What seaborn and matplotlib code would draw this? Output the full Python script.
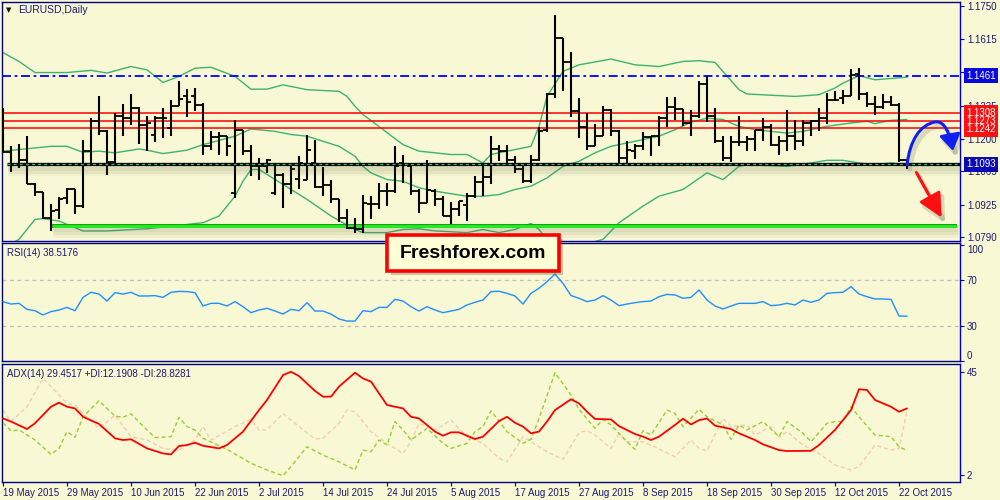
import numpy as np
import pandas as pd
import matplotlib
matplotlib.use('Agg')
import matplotlib.pyplot as plt
import matplotlib.patheffects as pe
import matplotlib.transforms as mtrans
from matplotlib.patches import Rectangle, FancyArrowPatch
from matplotlib.path import Path
import seaborn as sns

# EURUSD daily bars, 19 May - 23 Oct 2015 (business days)
dates = pd.bdate_range('2015-05-19', '2015-10-23')

opens = [1.1317, 1.1146, 1.1095, 1.1113, 1.1010, 1.0978, 1.0872, 1.0902, 1.0955, 1.0989,
         1.0920, 1.1148, 1.1272, 1.1230, 1.1105, 1.1292, 1.1285, 1.1327, 1.1258, 1.1217,
         1.1285, 1.1244, 1.1336, 1.1375, 1.1378, 1.1341, 1.1168, 1.1206, 1.1210, 1.0975,
         1.1237, 1.1148, 1.1085, 1.1085, 1.0975, 1.1050, 1.1010, 1.1033, 1.1030, 1.1099,
         1.0999, 1.1006, 1.0948, 1.0872, 1.0830, 1.0823, 1.0927, 1.0927, 1.0982, 1.0982,
         1.1099, 1.1085, 1.0982, 1.0931, 1.0982, 1.0950, 1.0879, 1.0906, 1.0923, 1.0961,
         1.1019, 1.1041, 1.1157, 1.1148, 1.1113, 1.1074, 1.1024, 1.1113, 1.1237, 1.1385,
         1.1616, 1.1516, 1.1313, 1.1247, 1.1168, 1.1210, 1.1317, 1.1230, 1.1120, 1.1148,
         1.1168, 1.1206, 1.1210, 1.1285, 1.1331, 1.1323, 1.1265, 1.1292, 1.1426, 1.1292,
         1.1189, 1.1120, 1.1185, 1.1185, 1.1199, 1.1237, 1.1247, 1.1175, 1.1192, 1.1212,
         1.1192, 1.1265, 1.1272, 1.1285, 1.1361, 1.1370, 1.1375, 1.1470, 1.1385, 1.1345,
         1.1331, 1.1350, 1.1341, 1.1110]
highs = [1.1327, 1.1168, 1.1179, 1.1210, 1.1015, 1.0980, 1.0927, 1.0959, 1.0996, 1.0992,
         1.1193, 1.1285, 1.1378, 1.1235, 1.1306, 1.1345, 1.1385, 1.1331, 1.1295, 1.1295,
         1.1327, 1.1361, 1.1437, 1.1405, 1.1410, 1.1347, 1.1230, 1.1226, 1.1212, 1.1279,
         1.1237, 1.1175, 1.1120, 1.1116, 1.1092, 1.1058, 1.1092, 1.1127, 1.1217, 1.1196,
         1.1083, 1.1030, 1.0948, 1.0906, 1.0869, 1.0968, 1.0961, 1.1017, 1.1017, 1.1168,
         1.1134, 1.1099, 1.0989, 1.1113, 1.0989, 1.0961, 1.0937, 1.0943, 1.0975, 1.1044,
         1.1099, 1.1212, 1.1175, 1.1175, 1.1127, 1.1092, 1.1134, 1.1247, 1.1389, 1.1713,
         1.1616, 1.1561, 1.1367, 1.1306, 1.1262, 1.1334, 1.1323, 1.1237, 1.1189, 1.1179,
         1.1226, 1.1212, 1.1292, 1.1372, 1.1372, 1.1323, 1.1320, 1.1440, 1.1458, 1.1327,
         1.1210, 1.1210, 1.1295, 1.1212, 1.1237, 1.1285, 1.1262, 1.1210, 1.1320, 1.1279,
         1.1276, 1.1279, 1.1327, 1.1389, 1.1396, 1.1403, 1.1490, 1.1492, 1.1392, 1.1378,
         1.1386, 1.1375, 1.1346, 1.1113]
lows = [1.1139, 1.1060, 1.1079, 1.1012, 1.0961, 1.0865, 1.0817, 1.0865, 1.0927, 1.0886,
        1.0913, 1.1085, 1.1217, 1.1051, 1.1085, 1.1210, 1.1258, 1.1179, 1.1148, 1.1185,
        1.1203, 1.1210, 1.1334, 1.1290, 1.1313, 1.1134, 1.1154, 1.1130, 1.1127, 1.0955,
        1.1134, 1.1044, 1.1030, 1.1058, 1.0968, 1.0913, 1.0971, 1.0989, 1.1030, 1.0996,
        1.0961, 1.0931, 1.0854, 1.0826, 1.0810, 1.0810, 1.0865, 1.0906, 1.0920, 1.0975,
        1.1017, 1.0968, 1.0892, 1.0931, 1.0920, 1.0879, 1.0844, 1.0879, 1.0858, 1.0954,
        1.0961, 1.1010, 1.1108, 1.1085, 1.1058, 1.1017, 1.1017, 1.1106, 1.1226, 1.1370,
        1.1396, 1.1290, 1.1203, 1.1152, 1.1168, 1.1210, 1.1212, 1.1085, 1.1085, 1.1116,
        1.1154, 1.1127, 1.1168, 1.1248, 1.1279, 1.1254, 1.1210, 1.1285, 1.1267, 1.1182,
        1.1106, 1.1102, 1.1168, 1.1148, 1.1148, 1.1189, 1.1168, 1.1134, 1.1148, 1.1154,
        1.1168, 1.1210, 1.1230, 1.1262, 1.1354, 1.1345, 1.1375, 1.1361, 1.1331, 1.1299,
        1.1323, 1.1334, 1.1104, 1.1072]
closes = [1.1146, 1.1095, 1.1113, 1.1012, 1.0978, 1.0872, 1.0899, 1.0950, 1.0989, 1.0920,
          1.1148, 1.1272, 1.1230, 1.1105, 1.1292, 1.1285, 1.1327, 1.1258, 1.1265, 1.1285,
          1.1285, 1.1336, 1.1364, 1.1350, 1.1341, 1.1168, 1.1206, 1.1210, 1.1168, 1.1237,
          1.1148, 1.1085, 1.1085, 1.1113, 1.1050, 1.1010, 1.1074, 1.1099, 1.1154, 1.0999,
          1.1006, 1.0948, 1.0872, 1.0830, 1.0823, 1.0934, 1.0927, 1.0982, 1.0982, 1.1085,
          1.1092, 1.0982, 1.0931, 1.0986, 1.0950, 1.0879, 1.0906, 1.0941, 1.0961, 1.1019,
          1.1041, 1.1157, 1.1148, 1.1113, 1.1074, 1.1024, 1.1113, 1.1230, 1.1385, 1.1616,
          1.1516, 1.1313, 1.1247, 1.1168, 1.1210, 1.1317, 1.1230, 1.1120, 1.1154, 1.1168,
          1.1206, 1.1210, 1.1285, 1.1331, 1.1323, 1.1265, 1.1292, 1.1426, 1.1292, 1.1189,
          1.1120, 1.1185, 1.1185, 1.1199, 1.1237, 1.1247, 1.1175, 1.1192, 1.1212, 1.1192,
          1.1265, 1.1272, 1.1285, 1.1361, 1.1361, 1.1375, 1.1465, 1.1385, 1.1345, 1.1331,
          1.1350, 1.1341, 1.1110, 1.1092]

# Bollinger bands (vertices, bar index -> price)
bb_upper_x = [0, 2, 4, 8, 11, 13, 16, 18, 20, 22, 24, 26, 29, 31, 33, 35, 38, 42, 43, 44,
              45, 47, 50, 52, 56, 58, 60, 61, 62, 66, 67, 68, 70, 72, 76, 79, 82, 85, 87, 89,
              92, 93, 99, 102, 104, 105, 107, 109, 113]
bb_upper = [1.1557, 1.1520, 1.1474, 1.1474, 1.1483, 1.1472, 1.1499, 1.1485, 1.1433, 1.1458,
            1.1492, 1.1496, 1.1458, 1.1405, 1.1405, 1.1423, 1.1403, 1.1396, 1.1375, 1.1334,
            1.1300, 1.1250, 1.1175, 1.1148, 1.1134, 1.1134, 1.1099, 1.1134, 1.1141, 1.1168,
            1.1251, 1.1375, 1.1479, 1.1506, 1.1530, 1.1506, 1.1499, 1.1520, 1.1523, 1.1516,
            1.1403, 1.1385, 1.1375, 1.1382, 1.1410, 1.1430, 1.1461, 1.1444, 1.1455]
bb_mid_x = [0, 6, 8, 10, 12, 14, 17, 18, 20, 23, 25, 29, 31, 34, 36, 38, 42, 44, 45, 46,
            48, 50, 52, 54, 58, 60, 62, 64, 66, 68, 70, 72, 74, 76, 79, 82, 84, 86, 88, 90,
            92, 94, 98, 100, 103, 106, 108, 109, 111, 113]
bb_mid = [1.1148, 1.1168, 1.1168, 1.1143, 1.1148, 1.1141, 1.1157, 1.1152, 1.1138, 1.1152,
          1.1175, 1.1210, 1.1240, 1.1230, 1.1217, 1.1210, 1.1168, 1.1127, 1.1085, 1.1058,
          1.1030, 1.1023, 1.0996, 1.0982, 1.0961, 1.0961, 1.0968, 1.0989, 1.1003, 1.1037,
          1.1085, 1.1106, 1.1141, 1.1168, 1.1189, 1.1210, 1.1237, 1.1268, 1.1285, 1.1279,
          1.1251, 1.1237, 1.1223, 1.1230, 1.1251, 1.1265, 1.1272, 1.1262, 1.1276, 1.1279]
bb_low_x = [0, 2, 4, 5, 7, 10, 13, 18, 21, 25, 27, 29, 30, 31, 32, 35, 38, 41, 44, 45,
            48, 50, 52, 54, 58, 60, 62, 64, 66, 67, 68, 70, 72, 75, 77, 80, 82, 85, 88, 90,
            92, 93, 98, 101, 103, 105, 107, 109, 111, 113]
bb_low = [1.0745, 1.0782, 1.0865, 1.0868, 1.0858, 1.0817, 1.0817, 1.0826, 1.0837, 1.0851,
          1.0879, 1.0961, 1.1023, 1.1072, 1.1072, 1.1010, 1.0948, 1.0879, 1.0823, 1.0810,
          1.0810, 1.0823, 1.0826, 1.0817, 1.0810, 1.0823, 1.0810, 1.0823, 1.0848, 1.0823,
          1.0782, 1.0760, 1.0755, 1.0782, 1.0851, 1.0920, 1.0961, 1.0989, 1.1058, 1.1030,
          1.1085, 1.1092, 1.1085, 1.1099, 1.1110, 1.1110, 1.1099, 1.1092, 1.1099, 1.1092]

# RSI(14), one value per bar
rsi = [51.2, 49.1, 49.7, 44.5, 43.3, 39.6, 42.5, 43.9, 46.2, 43.3,
       54.9, 59.3, 57.8, 51.7, 59.0, 57.8, 59.3, 56.1, 56.1, 56.4,
       54.9, 59.3, 60.1, 59.9, 59.0, 47.4, 49.7, 49.7, 47.4, 51.2,
       46.8, 41.6, 43.9, 45.4, 43.0, 40.4, 44.5, 43.3, 50.3, 43.0,
       43.0, 40.4, 36.1, 34.3, 34.3, 43.3, 42.5, 46.2, 46.2, 53.2,
       51.7, 46.8, 43.0, 46.8, 43.9, 41.6, 43.0, 44.5, 48.3, 50.6,
       52.6, 59.9, 60.2, 58.4, 56.1, 49.1, 58.4, 62.8, 68.5, 75.2,
       67.0, 56.5, 54.1, 51.2, 52.6, 56.4, 52.6, 47.7, 49.1, 50.3,
       51.2, 51.7, 55.5, 57.5, 57.0, 54.1, 54.9, 61.3, 52.6, 47.4,
       44.8, 47.4, 49.7, 49.7, 49.7, 51.2, 47.7, 48.3, 49.7, 48.3,
       52.6, 50.6, 52.6, 58.4, 59.0, 59.3, 64.2, 57.8, 55.5, 53.5,
       53.5, 53.2, 38.7, 38.5]

# ADX(14) with +DI / -DI (vertices)
adx_x = [0, 1, 3, 4, 6, 7, 8, 9, 10, 12, 14, 15, 16, 18, 20, 21, 22, 23, 24, 25,
         27, 28, 30, 32, 33, 35, 36, 37, 39, 40, 41, 42, 44, 45, 46, 48, 49, 50, 51, 52,
         54, 55, 56, 57, 59, 60, 62, 63, 64, 65, 66, 67, 68, 69, 71, 72, 73, 74, 76, 77,
         79, 80, 81, 82, 84, 85, 86, 87, 88, 89, 91, 92, 94, 95, 97, 98, 101, 102, 104, 106,
         107, 108, 109, 111, 112, 113]
adx = [25.6, 24.3, 21.2, 23.6, 30.5, 32.2, 30.5, 29.8, 26.3, 23.3, 17.3, 16.6, 16.9, 13.1, 11.0,
       10.6, 14.1, 14.5, 15.5, 14.2, 13.1, 14.5, 20.1, 29.1, 33.3, 43.7, 45.1, 43.3, 37.1, 34.7,
       34.7, 38.9, 44.7, 42.3, 41.0, 31.2, 30.5, 29.8, 26.3, 25.6, 20.1, 18.4, 19.8, 19.8, 17.0,
       18.0, 24.5, 26.3, 23.8, 22.2, 19.4, 20.1, 24.3, 29.1, 33.6, 31.9, 28.4, 25.4, 25.2, 22.4,
       19.1, 18.0, 16.6, 18.0, 22.9, 25.5, 23.1, 24.9, 25.6, 22.6, 21.2, 19.4, 16.6, 14.8, 12.4,
       12.0, 12.1, 14.5, 20.8, 29.1, 37.8, 37.5, 33.3, 30.5, 28.4, 29.8]
pdi_x = [0, 1, 2, 4, 6, 7, 8, 9, 10, 12, 14, 15, 16, 18, 19, 21, 22, 23, 24, 25,
         28, 31, 33, 35, 36, 38, 40, 42, 44, 45, 46, 47, 48, 49, 50, 51, 53, 55, 56, 58,
         59, 60, 61, 62, 63, 65, 66, 67, 69, 71, 72, 74, 75, 76, 78, 79, 80, 81, 83, 84,
         85, 87, 88, 90, 91, 92, 93, 95, 97, 98, 100, 101, 103, 104, 105, 106, 107, 109, 111, 112,
         113]
pdi = [23.8, 20.4, 20.8, 16.6, 10.6, 13.1, 20.1, 17.7, 26.3, 33.0, 26.6, 26.1, 27.5, 20.8, 17.6,
       18.0, 26.1, 22.2, 20.8, 17.3, 12.7, 6.9, 4.1, 1.7, 5.5, 13.8, 10.3, 7.5, 4.1, 12.4,
       11.7, 16.6, 14.5, 24.3, 20.8, 16.6, 21.5, 15.2, 13.1, 15.2, 20.1, 22.2, 28.8, 24.5, 20.1,
       15.2, 16.9, 25.6, 44.7, 35.4, 29.4, 21.5, 25.2, 22.9, 15.9, 12.7, 20.5, 18.7, 29.1, 27.7,
       22.2, 29.4, 26.3, 22.9, 16.9, 22.9, 20.8, 24.3, 18.0, 24.3, 19.4, 15.9, 23.6, 24.3, 24.3,
       30.5, 26.3, 18.7, 18.0, 13.8, 12.2]
mdi_x = [0, 1, 3, 5, 6, 8, 9, 10, 12, 14, 16, 18, 20, 22, 24, 25, 26, 29, 31, 32,
         33, 35, 36, 39, 40, 42, 43, 44, 46, 48, 50, 51, 52, 54, 56, 58, 60, 62, 63, 65,
         67, 68, 70, 72, 73, 74, 76, 77, 78, 80, 81, 84, 86, 87, 88, 90, 91, 93, 94, 96,
         97, 98, 100, 102, 104, 106, 107, 109, 111, 112, 113]
mdi = [29.1, 24.3, 30.5, 42.3, 38.9, 31.9, 31.2, 27.7, 21.5, 27.0, 18.0, 16.6, 13.1, 12.4, 16.6,
       22.2, 16.6, 22.2, 25.2, 20.8, 20.8, 27.7, 24.9, 17.0, 17.3, 23.6, 29.1, 28.4, 20.1, 15.2,
       11.0, 15.9, 23.6, 20.8, 24.9, 18.0, 15.2, 9.0, 7.5, 18.0, 13.8, 11.7, 8.5, 19.7, 20.5,
       18.7, 13.1, 19.1, 15.9, 15.9, 14.5, 9.6, 16.6, 13.1, 12.1, 25.6, 22.2, 22.9, 18.7, 22.2,
       17.7, 20.1, 14.5, 11.0, 6.2, 4.1, 5.5, 14.5, 12.4, 13.0, 28.8]

# drawn levels and axis labels
level_dashdot = 1.1461
levels_red = [1.1308, 1.1273, 1.1242]
level_black = 1.1093
level_green = 1.0839
price_ticks = [1.1750, 1.1615, 1.1475, 1.1335, 1.1200, 1.1065, 1.0925, 1.0790]
date_tick_pos = list(range(0, 114, 8))
date_labels = ['19 May 2015', '29 May 2015', '10 Jun 2015', '22 Jun 2015', '2 Jul 2015',
               '14 Jul 2015', '24 Jul 2015', '5 Aug 2015', '17 Aug 2015', '27 Aug 2015',
               '8 Sep 2015', '18 Sep 2015', '30 Sep 2015', '12 Oct 2015', '22 Oct 2015']

# ---- style
sns.set_style('white')
plt.rcParams['font.family'] = ['Liberation Sans', 'DejaVu Sans']
BG = '#F8F8D4'
NAVY = '#000080'
TXT = '#1a1a70'
FS = 7

fig = plt.figure(figsize=(10, 5), dpi=100, facecolor=BG)
W, H = 1000.0, 500.0


def panel(top, bottom):
    return fig.add_axes([2 / W, 1 - bottom / H, 958 / W, (bottom - top) / H], facecolor=BG)


ax_p = panel(2, 241)
ax_r = panel(243, 361)
ax_a = panel(364, 482)

xlim = (-0.125, 119.625)
for ax in (ax_p, ax_r, ax_a):
    ax.set_xlim(*xlim)
    for s in ax.spines.values():
        s.set_color(NAVY)
        s.set_linewidth(1)
        s.set_visible(True)
    ax.spines['right'].set_color('#0000C0')
    ax.yaxis.tick_right()
    ax.tick_params(axis='y', direction='out', length=3, width=0.8, color='#0000C0',
                   labelsize=FS, labelcolor=TXT, pad=2, right=True, left=False)
    ax.tick_params(axis='x', bottom=False, labelbottom=False)
    ax.grid(False)
    ax.set_xlabel('')
    ax.set_ylabel('')

# ---- price panel
idx = np.arange(len(opens))


def soft_shadow(width):
    # a few stacked translucent strokes give a blurred drop shadow
    fx = []
    for k, a in ((0, 0.07), (1, 0.07), (2, 0.06)):
        fx.append(pe.SimpleLineShadow(offset=(1, -3 - k), shadow_color='#606040',
                                      alpha=a, linewidth=width + 2 * k))
    return fx


for bx, by in ((bb_upper_x, bb_upper), (bb_mid_x, bb_mid), (bb_low_x, bb_low)):
    sns.lineplot(x=bx, y=by, ax=ax_p, color='#3CB371', lw=1, zorder=2)

ax_p.axhline(level_dashdot, color='#0000FF', lw=1.3, ls=(0, (5, 2, 1.5, 2)), zorder=3)
for lv in levels_red:
    ax_p.axhline(lv, color='#FF0000', lw=1.1, zorder=3)
ax_p.hlines(level_green, 6.1, 119.25, color='#22F022', lw=2.0, zorder=3,
            path_effects=soft_shadow(3) + [pe.Stroke(linewidth=2.8, foreground='#119911'),
                                           pe.Normal()])

ax_p.vlines(idx, lows, highs, color='black', lw=1.5, zorder=4)
ax_p.hlines(opens, idx - 0.45, idx, color='black', lw=1.3, zorder=4)
ax_p.hlines(closes, idx, idx + 0.45, color='black', lw=1.3, zorder=4)

ax_p.hlines(level_black, 0.5, xlim[1], color='black', lw=2.4, zorder=5,
            path_effects=soft_shadow(3) + [pe.Normal()])
ax_p.hlines(level_black, 0.5, xlim[1], color='#3CB371', lw=1, zorder=6,
            linestyles=[(0, (2.2, 2.2))])

ax_p.set_ylim(1.07753, 1.17666)
ax_p.set_yticks(price_ticks)
ax_p.set_yticklabels(['%.4f' % t for t in price_ticks])

# price boxes on the right scale
tr = mtrans.blended_transform_factory(ax_p.transAxes, ax_p.transData)
bx0 = (966 - 2) / 958.0
for lv, fc in ((level_dashdot, '#0A0AE0'), (level_black, '#0A0AB4')):
    ax_p.text(bx0, lv, '%.4f' % lv, transform=tr, color='white', fontsize=FS,
              ha='left', va='center', clip_on=False, zorder=20,
              bbox=dict(boxstyle='square,pad=0.25', fc=fc, ec='none'))
# the three red levels sit in one stacked red label block
ax_p.text(bx0, levels_red[1], '\n'.join('%.4f' % lv for lv in levels_red), transform=tr,
          color='white', fontsize=FS, ha='left', va='center', linespacing=0.78,
          clip_on=False, zorder=20,
          bbox=dict(boxstyle='square,pad=0.25', fc='#FF1010', ec='none'))


# hand-drawn arrows
def to_data(px, py):
    return ((px - 3) / 8.0, 1.1750 - (py - 6) / 2411.0)


arr_fx = [pe.SimpleLineShadow(offset=(2, -3), shadow_color='#606040', alpha=0.2,
                              linewidth=3.5), pe.Normal()]
blue_pts = [to_data(*p) for p in [(907, 165), (910, 140), (920, 125), (935, 122),
                                  (945, 120), (950, 135), (953, 151)]]
blue_path = Path(blue_pts, [Path.MOVETO] + [Path.CURVE4] * 6)
blue_arrow = FancyArrowPatch(path=blue_path, arrowstyle='-|>,head_length=0.7,head_width=0.45',
                             mutation_scale=14, lw=2.2, color='#1020F0', zorder=15,
                             path_effects=arr_fx)
ax_p.add_patch(blue_arrow)
red_arrow = FancyArrowPatch(to_data(915, 170), to_data(943, 220),
                            arrowstyle='-|>,head_length=0.9,head_width=0.45',
                            mutation_scale=16, lw=2.2, color='#FF1010', zorder=15,
                            path_effects=arr_fx)
ax_p.add_patch(red_arrow)

# ---- RSI panel
sns.lineplot(x=idx, y=rsi, ax=ax_r, color='#1E90FF', lw=1, zorder=3)
for lv in (70, 30):
    ax_r.axhline(lv, color='#BEBEBE', lw=0.9, ls=(0, (3, 3)), zorder=1)
ax_r.set_ylim(-0.43, 102.17)
ax_r.set_yticks([100, 70, 30, 0])
ax_r.set_yticklabels(['100', '70', '30', '0'])
rl = ax_r.get_yticklabels()
rl[0].set_va('top')
rl[3].set_va('bottom')

# ---- ADX panel
sns.lineplot(x=mdi_x, y=mdi, ax=ax_a, color='#F2CDAE', lw=1, zorder=2)
ax_a.lines[-1].set_linestyle((0, (3, 2)))
sns.lineplot(x=pdi_x, y=pdi, ax=ax_a, color='#9ACD32', lw=1, zorder=3)
ax_a.lines[-1].set_linestyle((0, (3, 2)))
sns.lineplot(x=adx_x, y=adx, ax=ax_a, color='#FF0000', lw=1.3, zorder=4)
ax_a.set_ylim(-0.93, 48.34)
ax_a.set_yticks([45, 2])
ax_a.set_yticklabels(['45', '2'])

ax_a.set_xticks(date_tick_pos)
ax_a.set_xticklabels(date_labels)
ax_a.tick_params(axis='x', bottom=True, labelbottom=True, direction='out', length=3,
                 width=0.8, color=NAVY, labelsize=FS, labelcolor=TXT, pad=1)
for lbl in ax_a.get_xticklabels():
    lbl.set_ha('left')

for ax in (ax_p, ax_r, ax_a):
    ax.set_xlim(*xlim)
    if ax.get_legend() is not None:
        ax.get_legend().remove()

# ---- headers
fig.text(6 / W, 1 - 10 / H, '\u25bc', family='DejaVu Sans', fontsize=5, color='#101010',
         va='center')
fig.text(18 / W, 1 - 10 / H, 'EURUSD,Daily', fontsize=7.5, color=TXT, va='center')
fig.text(7 / W, 1 - 253 / H, 'RSI(14) 38.5176', fontsize=FS, color=TXT, va='center')
fig.text(7 / W, 1 - 374 / H, 'ADX(14) 29.4517 +DI:12.1908 -DI:28.8281', fontsize=FS,
         color=TXT, va='center')

# ---- watermark box
box = Rectangle((387 / W, 1 - 271 / H), 172 / W, 36 / H, transform=fig.transFigure,
                fc='#FFFFD6', ec='#FF0000', lw=2.6, zorder=30,
                path_effects=[pe.SimplePatchShadow(offset=(3, -3), shadow_rgbFace='#505030',
                                                   alpha=0.3), pe.Normal()])
fig.patches.append(box)
fig.text(473 / W, 1 - 253 / H, 'Freshforex.com', fontsize=14, fontweight='bold',
         color='black', ha='center', va='center', zorder=31)

fig.savefig('out.png', dpi=100, facecolor=BG)
